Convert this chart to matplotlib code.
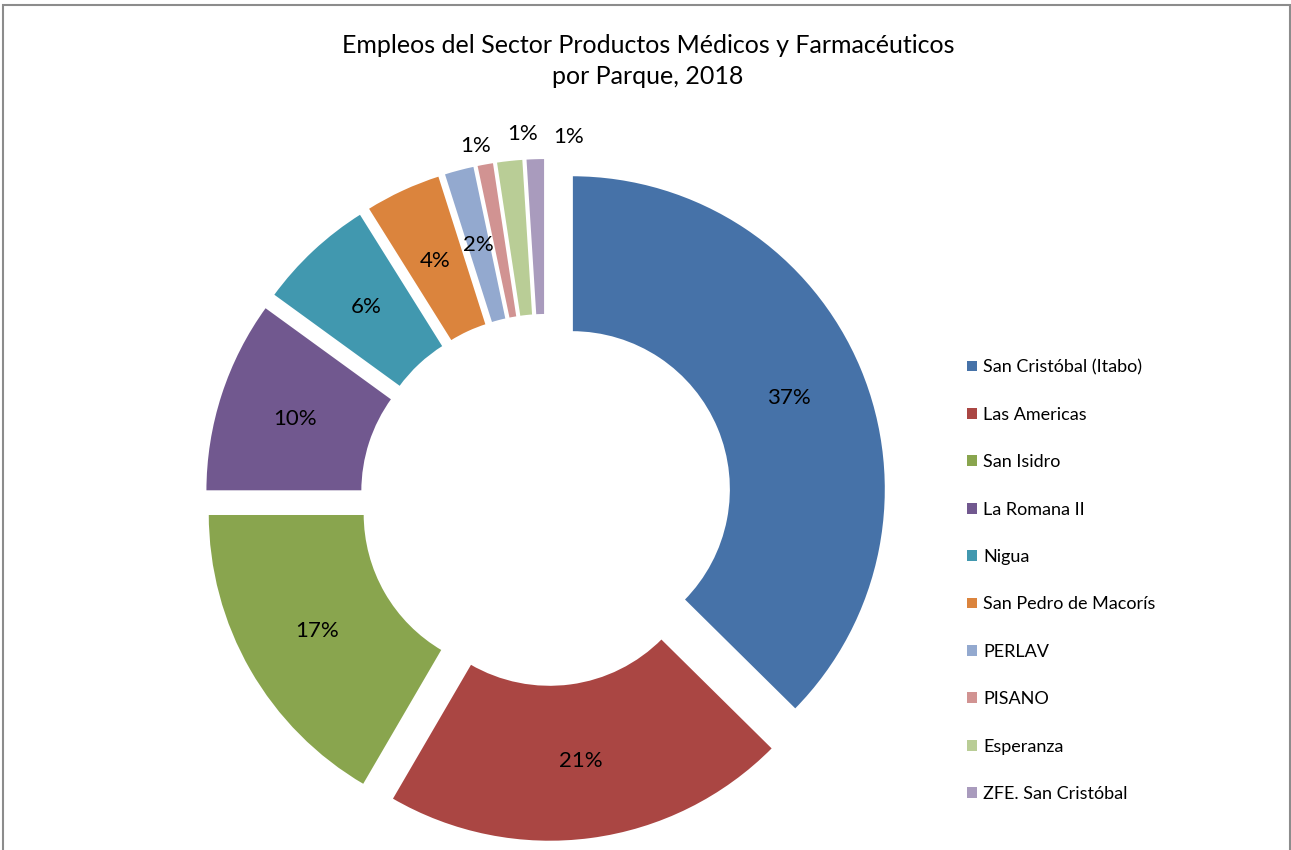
import matplotlib
matplotlib.use("Agg")
import matplotlib.pyplot as plt
import numpy as np
from matplotlib.patches import Rectangle, Patch

plt.rcParams['font.family'] = ['Lato', 'DejaVu Sans']

categories = ["San Cristóbal (Itabo)", "Las Americas", "San Isidro", "La Romana II",
              "Nigua", "San Pedro de Macorís", "PERLAV", "PISANO", "Esperanza",
              "ZFE. San Cristóbal"]
shares = [37.4, 21.0, 16.6, 10.0, 6.1, 4.0, 1.6, 0.9, 1.4, 1.0]
colors = ["#4672A8", "#AA4643", "#89A54E", "#71588F", "#4198AF",
          "#DB843D", "#93A9CF", "#D19392", "#B9CD96", "#A99BBD"]
title = "Empleos del Sector Productos Médicos y Farmacéuticos\npor Parque, 2018"

W, H = 1291, 850
fig = plt.figure(figsize=(W / 100, H / 100), dpi=100)
ax = fig.add_axes([0, 0, 1, 1])

cx, cy, R = 546, H - 500, 314
wedges, texts, autotexts = ax.pie(
    shares, colors=colors, startangle=90, counterclock=False,
    radius=R, center=(cx, cy), explode=[28] * len(shares),
    wedgeprops=dict(width=R * 0.5, edgecolor='white', linewidth=1.5),
    autopct=lambda p: f"{p:.0f}%", pctdistance=0.75,
    textprops=dict(fontsize=16, color='black'), frame=True)
ax.set_xlim(0, W)
ax.set_ylim(0, H)
ax.set_aspect('equal')
ax.axis('off')

# Outside labels for the three thinnest slices
nudges = {7: (1.0, 1.06), 8: (-2.6, 1.08), 9: (-5.8, 1.07)}
for i, (dang, dist) in nudges.items():
    w = wedges[i]
    th = np.deg2rad((w.theta1 + w.theta2) / 2 + dang)
    x0, y0 = w.center
    autotexts[i].set_position((x0 + dist * R * np.cos(th), y0 + dist * R * np.sin(th)))

handles = [Patch(facecolor=c, edgecolor='none') for c in colors]
leg = ax.legend(handles, categories, loc='upper left',
                bbox_to_anchor=(960 / W, 1 - 352 / H), bbox_transform=fig.transFigure,
                frameon=False, fontsize=13, handlelength=0.55, handleheight=0.55,
                handletextpad=0.35, labelspacing=1.74, borderaxespad=0)

fig.text(648 / W, 1 - 61 / H, title, ha='center', va='center', fontsize=18,
         linespacing=1.45)

fig.patches.append(Rectangle((3 / W, -0.05), (1287) / W, 1.05 - 5 / H,
                             transform=fig.transFigure, fill=False,
                             edgecolor='#8C8C8C', linewidth=1.5))

fig.savefig("out.png", dpi=100)
